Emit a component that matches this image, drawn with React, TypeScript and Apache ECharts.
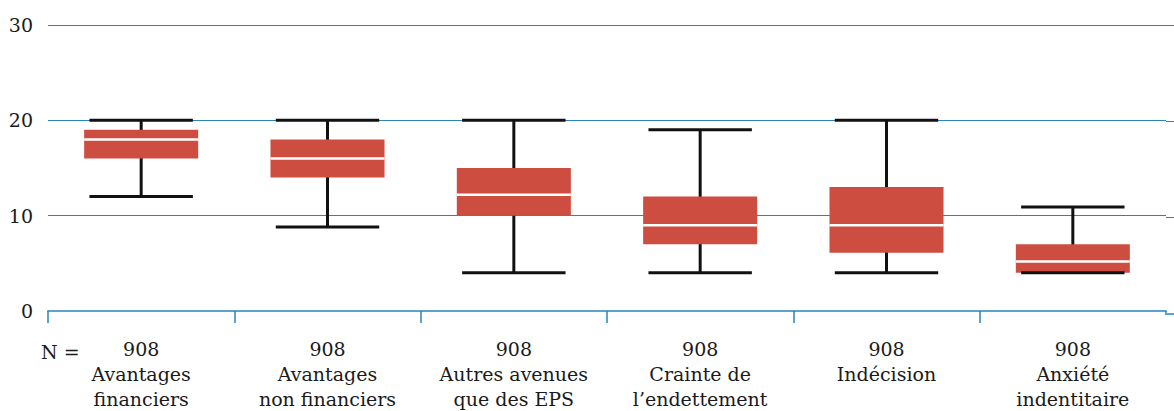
import React, { useEffect, useRef } from "react";
import * as echarts from "echarts";

const categories = [
  "Avantages\nfinanciers",
  "Avantages\nnon financiers",
  "Autres avenues\nque des EPS",
  "Crainte de\nl’endettement",
  "Indécision",
  "Anxiété\nindentitaire",
];
const nValues = [908, 908, 908, 908, 908, 908];
const mins = [12, 8.8, 4, 4, 4, 4];
const q1s = [16, 14, 10, 7, 6.1, 4];
const medians = [18, 16, 12.2, 9, 9, 5.2];
const q3s = [19, 18, 15, 12, 13, 7];
const maxs = [20, 20, 20, 19, 20, 10.9];
const yTicks = [0, 10, 20, 30];

const FONT = "'DejaVu Serif', serif";
const RED = "#cd4d40";
const GRID_BLUE = "#2a84bb";
const AXIS_BLUE = "#5aa3cb";

export default function App() {
  const ref = useRef<HTMLDivElement>(null);

  useEffect(() => {
    if (!ref.current) return;
    const chart = echarts.init(ref.current, undefined, { renderer: "svg" });
    const data = categories.map((_, i) => [i, mins[i], q1s[i], medians[i], q3s[i], maxs[i]]);
    const labels = categories.map((c, i) => `${nValues[i]}\n${c}`);

    chart.setOption({
      animation: false,
      backgroundColor: "#ffffff",
      grid: { left: 48, right: 8, top: 25, bottom: 97, containLabel: false },
      xAxis: {
        type: "category",
        data: labels,
        boundaryGap: true,
        axisLine: { show: true, lineStyle: { color: AXIS_BLUE, width: 2 } },
        axisTick: {
          show: true,
          alignWithLabel: false,
          length: 12,
          interval: (index: number) => index < categories.length,
          lineStyle: { color: GRID_BLUE, width: 1.5 },
        },
        axisLabel: {
          interval: 0,
          margin: 25,
          fontFamily: FONT,
          fontSize: 19,
          lineHeight: 25,
          color: "#1a1a1a",
          align: "center",
        },
        splitLine: { show: false },
      },
      yAxis: {
        type: "value",
        min: yTicks[0],
        max: yTicks[yTicks.length - 1],
        interval: 10,
        axisLine: { show: false },
        axisTick: { show: false },
        axisLabel: { margin: 15, fontFamily: FONT, fontSize: 19, color: "#1a1a1a" },
        splitLine: { show: true, lineStyle: { color: GRID_BLUE, width: 1 } },
      },
      graphic: [
        {
          type: "text",
          left: 41,
          top: 342,
          style: { text: "N =", fontFamily: FONT, fontSize: 19, fill: "#1a1a1a" },
        },
        {
          type: "rect",
          shape: { x: 1164, y: 315, width: 10, height: 14 },
          style: { fill: "#ffffff" },
          z: 100,
        },
        {
          type: "line",
          shape: { x1: 1166, y1: 314, x2: 1174, y2: 314 },
          style: { stroke: AXIS_BLUE, lineWidth: 2 },
          z: 101,
        },
        {
          type: "line",
          shape: { x1: 1166, y1: 25.5, x2: 1174, y2: 25.5 },
          style: { stroke: GRID_BLUE, lineWidth: 1 },
        },
        {
          type: "line",
          shape: { x1: 1166, y1: 121.5, x2: 1174, y2: 121.5 },
          style: { stroke: GRID_BLUE, lineWidth: 1 },
        },
        {
          type: "line",
          shape: { x1: 1166, y1: 217.5, x2: 1174, y2: 217.5 },
          style: { stroke: GRID_BLUE, lineWidth: 1 },
        },
      ],
      series: [
        {
          type: "custom",
          data,
          encode: { x: 0, y: [1, 2, 3, 4, 5] },
          renderItem: (params: any, api: any) => {
            const idx = api.value(0);
            const band = api.size([1, 0])[0];
            const pMin = api.coord([idx, api.value(1)]);
            const pQ1 = api.coord([idx, api.value(2)]);
            const pMed = api.coord([idx, api.value(3)]);
            const pQ3 = api.coord([idx, api.value(4)]);
            const pMax = api.coord([idx, api.value(5)]);
            const cx = pMin[0];
            const boxW = band * 0.612;
            const capW = band * 0.555;
            const black = { stroke: "#111111", lineWidth: 3 };
            return {
              type: "group",
              children: [
                { type: "line", shape: { x1: cx, y1: pMax[1], x2: cx, y2: pMin[1] }, style: black },
                {
                  type: "rect",
                  shape: { x: cx - boxW / 2, y: pQ3[1], width: boxW, height: pQ1[1] - pQ3[1] },
                  style: { fill: RED },
                },
                {
                  type: "line",
                  shape: { x1: cx - boxW / 2, y1: pMed[1], x2: cx + boxW / 2, y2: pMed[1] },
                  style: { stroke: "#ffffff", lineWidth: 2.5 },
                },
                { type: "line", shape: { x1: cx - capW / 2, y1: pMax[1], x2: cx + capW / 2, y2: pMax[1] }, style: black },
                { type: "line", shape: { x1: cx - capW / 2, y1: pMin[1], x2: cx + capW / 2, y2: pMin[1] }, style: black },
              ],
            };
          },
        },
      ],
    });
    return () => chart.dispose();
  }, []);

  return (
    <div
      ref={ref}
      style={{ position: "absolute", left: 0, top: 0, width: 1174, height: 411 }}
    />
  );
}
